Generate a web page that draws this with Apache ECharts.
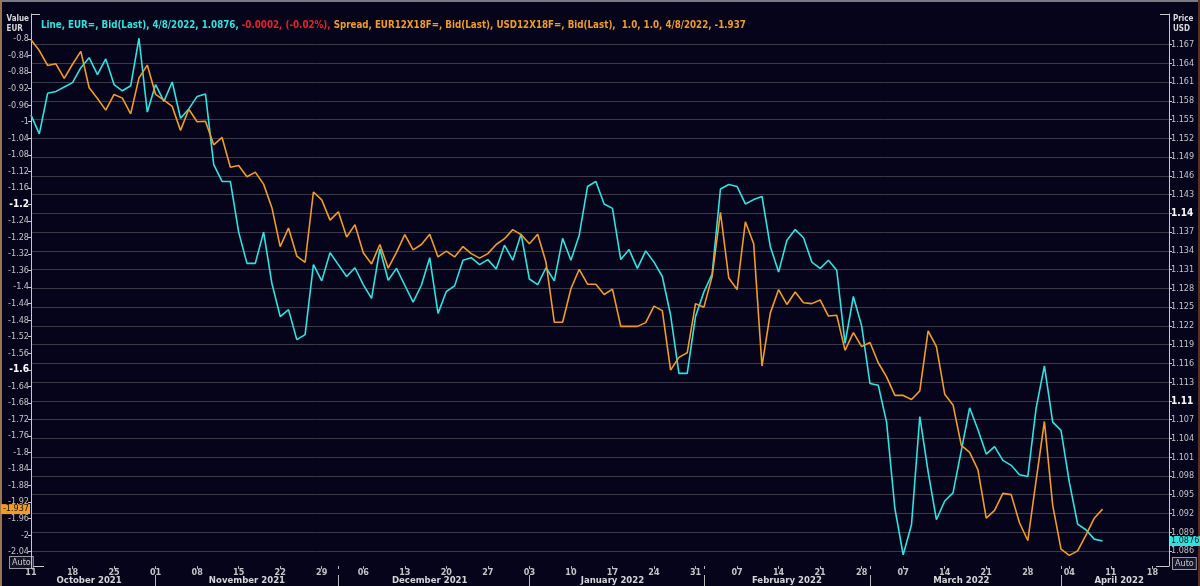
<!DOCTYPE html>
<html><head><meta charset="utf-8">
<script src="https://cdn.jsdelivr.net/npm/echarts@6/dist/echarts.min.js"></script>
<style>html,body{margin:0;padding:0;background:#05041a;}#c{width:1200px;height:586px;}</style>
</head><body><div id="c"></div>
<script>
// Spread, EUR12X18F= minus USD12X18F= (left axis, EUR)
const spreadValues = [
 -0.802,-0.828,-0.864,-0.860,-0.895,-0.861,-0.830,-0.918,-0.944,-0.972,
 -0.934,-0.943,-0.981,-0.894,-0.863,-0.934,-0.948,-0.963,-1.021,-0.970,
 -1.000,-0.999,-1.056,-1.038,-1.110,-1.106,-1.133,-1.122,-1.151,-1.208,
 -1.302,-1.257,-1.325,-1.340,-1.170,-1.189,-1.238,-1.218,-1.279,-1.249,
 -1.317,-1.344,-1.297,-1.354,-1.316,-1.273,-1.310,-1.297,-1.272,-1.327,
 -1.313,-1.327,-1.302,-1.319,-1.330,-1.319,-1.297,-1.283,-1.261,-1.273,
 -1.295,-1.272,-1.340,-1.485,-1.485,-1.404,-1.357,-1.393,-1.393,-1.418,
 -1.405,-1.495,-1.495,-1.495,-1.486,-1.446,-1.457,-1.601,-1.570,-1.559,
 -1.440,-1.449,-1.374,-1.219,-1.378,-1.406,-1.242,-1.295,-1.591,-1.463,
 -1.406,-1.442,-1.412,-1.438,-1.440,-1.431,-1.470,-1.468,-1.553,-1.510,
 -1.544,-1.534,-1.583,-1.617,-1.662,-1.662,-1.672,-1.651,-1.506,-1.544,
 -1.659,-1.685,-1.783,-1.800,-1.842,-1.959,-1.940,-1.899,-1.902,-1.970,
 -2.013,-1.868,-1.725,-1.928,-2.034,-2.049,-2.038,-2.000,-1.959,-1.937
];
// Line, EUR= Bid (right axis, USD)
const eurValues = [
 1.1557,1.1527,1.1592,1.1595,1.1602,1.1609,1.1633,1.1649,1.1622,1.1647,
 1.1606,1.1596,1.1604,1.1680,1.1562,1.1606,1.1579,1.1610,1.1552,1.1567,
 1.1587,1.1591,1.1478,1.1451,1.1451,1.1370,1.1320,1.1320,1.1370,1.1288,
 1.1235,1.1246,1.1198,1.1206,1.1318,1.1292,1.1337,1.1318,1.1299,1.1313,
 1.1286,1.1264,1.1343,1.1293,1.1312,1.1285,1.1258,1.1285,1.1329,1.1240,
 1.1275,1.1284,1.1325,1.1329,1.1318,1.1326,1.1311,1.1349,1.1325,1.1367,
 1.1295,1.1286,1.1313,1.1292,1.1360,1.1325,1.1365,1.1443,1.1451,1.1415,
 1.1408,1.1326,1.1342,1.1312,1.1340,1.1322,1.1299,1.1237,1.1144,1.1144,
 1.1235,1.1274,1.1303,1.1439,1.1446,1.1443,1.1415,1.1422,1.1427,1.1347,
 1.1306,1.1357,1.1374,1.1361,1.1322,1.1312,1.1325,1.1309,1.1192,1.1267,
 1.1220,1.1128,1.1125,1.1066,1.0928,1.0854,1.0902,1.1075,1.0987,1.0910,
 1.0940,1.0953,1.1021,1.1089,1.1054,1.1015,1.1027,1.1005,1.0997,1.0982,
 1.0979,1.1088,1.1156,1.1066,1.1053,1.0970,1.0903,1.0894,1.0879,1.0876
];
const leftTicks = [-0.8,-0.84,-0.88,-0.92,-0.96,-1,-1.04,-1.08,-1.12,-1.16,-1.2,-1.24,-1.28,-1.32,-1.36,-1.4,
 -1.44,-1.48,-1.52,-1.56,-1.6,-1.64,-1.68,-1.72,-1.76,-1.8,-1.84,-1.88,-1.92,-1.96,-2,-2.04];
const rightTicks = [1.167,1.164,1.161,1.158,1.155,1.152,1.149,1.146,1.143,1.14,1.137,1.134,1.131,1.128,
 1.125,1.122,1.119,1.116,1.113,1.11,1.107,1.104,1.101,1.098,1.095,1.092,1.089,1.086];
const leftBold = [-1.2,-1.6];
const rightBold = [1.14,1.11];
const monthNames = ['January','February','March','April','May','June','July','August','September','October','November','December'];
const lastDate = '4/8/2022';
const eurChange = '-0.0002, (-0.02%),';

// trading-day categories (weekdays) from 11 Oct 2021, extending past the data
const dates = [];
{
  const d = new Date(2021, 9, 11);
  while (dates.length < 138) {
    const wd = d.getDay();
    if (wd !== 0 && wd !== 6) dates.push(new Date(d.getTime()));
    d.setDate(d.getDate() + 1);
  }
}
const pad = n => (n < 10 ? '0' : '') + n;
const dateStrs = dates.map(d => d.getFullYear() + '-' + pad(d.getMonth() + 1) + '-' + pad(d.getDate()));
const mondaySet = new Set();
const monthStartSet = new Set();
const monthMid = {};
{
  let runStart = 0;
  for (let i = 0; i < dates.length; i++) {
    if (dates[i].getDay() === 1) mondaySet.add(i);
    const newMonth = i > 0 && dates[i].getMonth() !== dates[i - 1].getMonth();
    if (newMonth) { monthStartSet.add(i); runStart = i; }
    const endRun = i === dates.length - 1 || dates[i + 1].getMonth() !== dates[i].getMonth();
    if (endRun) {
      const mid = Math.round((runStart + i) / 2);
      monthMid[mid] = monthNames[dates[i].getMonth()] + ' ' + dates[i].getFullYear();
    }
  }
}

const near = (a, list) => list.some(b => Math.abs(a - b) < 1e-9);
const fmtLeft = v => {
  const s = String(parseFloat(Number(v).toFixed(3)));
  return near(v, leftBold) ? '{b|' + s + '}' : s;
};
const fmtRight = v => near(v, rightBold) ? '{b|' + Number(v).toFixed(2) + '}' : Number(v).toFixed(3);

const FONT = "'Liberation Sans Narrow','DejaVu Sans Condensed',sans-serif";
const CYAN = '#2fe3e0';
const ORANGE = '#f29b25';
const LABEL = '#c4c4c8';

const lastEur = eurValues[eurValues.length - 1];
const lastSpread = spreadValues[spreadValues.length - 1];
const titlePart1 = 'Line, EUR=, Bid(Last), ' + lastDate + ', ' + lastEur.toFixed(4) + ', ';
const titlePart2 = eurChange;
const titlePart3 = ' Spread, EUR12X18F=, Bid(Last), USD12X18F=, Bid(Last),  1.0, 1.0, ' + lastDate + ', ' + lastSpread.toFixed(3);

// fit the header line to the reference width (~705px) whatever condensed font is present
const mctx = document.createElement('canvas').getContext('2d');
mctx.font = 'bold 12px ' + FONT;
const w12 = mctx.measureText(titlePart1 + titlePart2 + titlePart3).width;
const titleSize = Math.max(9, Math.min(13, 12 * 706 / w12));

const chart = echarts.init(document.getElementById('c'), null, {renderer: 'canvas'});
chart.setOption({
  backgroundColor: '#05041a',
  animation: false,
  textStyle: {fontFamily: FONT},
  title: {
    left: 36, top: 15,
    text: '{c|' + titlePart1 + '}{r|' + titlePart2 + '}{o|' + titlePart3 + '}',
    textStyle: {
      fontFamily: FONT, fontSize: titleSize,
      rich: {
        c: {color: CYAN, fontSize: titleSize, fontWeight: 'bold', fontFamily: FONT},
        r: {color: '#e8222c', fontSize: titleSize, fontWeight: 'bold', fontFamily: FONT},
        o: {color: ORANGE, fontSize: titleSize, fontWeight: 'bold', fontFamily: FONT}
      }
    }
  },
  grid: {left: 31, right: 31, top: 14, bottom: 20, containLabel: false},
  xAxis: [
    {
      type: 'category', data: dateStrs, boundaryGap: false, position: 'bottom',
      axisLine: {show: false},
      axisTick: {show: true, length: 3, interval: i => mondaySet.has(i) || monthStartSet.has(i), lineStyle: {color: '#b8b8bc'}},
      axisLabel: {interval: i => mondaySet.has(i), formatter: v => v.slice(8, 10), color: LABEL, fontSize: 9, fontWeight: 'bold', margin: 2, fontFamily: FONT},
      splitLine: {show: false}
    },
    {
      type: 'category', data: dateStrs, boundaryGap: false, position: 'bottom', offset: 9,
      axisLine: {show: false},
      axisTick: {show: true, length: 12, interval: i => monthStartSet.has(i), lineStyle: {color: '#b8b8bc'}},
      axisLabel: {interval: i => monthMid[i] !== undefined, formatter: (v, i) => monthMid[i] || '', color: '#d6d6da', fontSize: 9.5, fontWeight: 'bold', margin: 1, fontFamily: FONT},
      splitLine: {show: false}
    }
  ],
  yAxis: [
    {
      type: 'value', position: 'left', min: -2.0746, max: -0.7395,
      axisLine: {show: true, lineStyle: {color: '#c8c8cc', width: 1}},
      axisTick: {show: true, customValues: leftTicks, length: 3, lineStyle: {color: '#c8c8cc'}},
      axisLabel: {customValues: leftTicks, formatter: fmtLeft, color: LABEL, fontSize: 9, margin: 2, fontFamily: FONT,
        rich: {b: {fontWeight: 'bold', color: '#ffffff', fontSize: 10, fontFamily: FONT}}},
      splitLine: {show: false}
    },
    {
      type: 'value', position: 'right', min: 1.0836, max: 1.17188,
      axisLine: {show: true, lineStyle: {color: '#c8c8cc', width: 1}},
      axisTick: {show: true, customValues: rightTicks, length: 3, lineStyle: {color: '#c8c8cc'}},
      axisLabel: {customValues: rightTicks, formatter: fmtRight, color: LABEL, fontSize: 9, margin: 2, fontFamily: FONT,
        rich: {b: {fontWeight: 'bold', color: '#ffffff', fontSize: 10, fontFamily: FONT}}},
      splitLine: {show: true, lineStyle: {color: '#3a3a48', width: 1}}
    }
  ],
  series: [
    {
      name: 'EUR=', type: 'line', xAxisIndex: 0, yAxisIndex: 1, data: eurValues,
      symbol: 'none', lineStyle: {color: CYAN, width: 1.6}, z: 3
    },
    {
      name: 'Spread', type: 'line', xAxisIndex: 0, yAxisIndex: 0, data: spreadValues,
      symbol: 'none', lineStyle: {color: ORANGE, width: 1.6}, z: 4
    }
  ],
  graphic: [
    {type: 'rect', left: 0, top: 0, shape: {width: 1200, height: 2}, style: {fill: '#7a7a80'}, silent: true},
    {type: 'rect', left: 0, top: 0, shape: {width: 2, height: 586}, style: {fill: '#9a7450'}, silent: true},
    {type: 'rect', right: 0, top: 0, shape: {width: 2, height: 586}, style: {fill: '#5a2e22'}, silent: true},
    {type: 'line', shape: {x1: 31, y1: 14.5, x2: 40, y2: 14.5}, style: {stroke: '#c8c8cc', lineWidth: 1}, silent: true},
    {type: 'line', shape: {x1: 1160, y1: 14.5, x2: 1169, y2: 14.5}, style: {stroke: '#c8c8cc', lineWidth: 1}, silent: true},
    {type: 'line', shape: {x1: 31, y1: 566.5, x2: 44, y2: 566.5}, style: {stroke: '#c8c8cc', lineWidth: 1}, silent: true},
    {type: 'line', shape: {x1: 1156, y1: 566.5, x2: 1169, y2: 566.5}, style: {stroke: '#c8c8cc', lineWidth: 1}, silent: true},
    {type: 'text', right: 1171, top: 14, style: {text: 'Value\nEUR', fill: '#d8d8dc', font: 'bold 8px ' + FONT, align: 'right', lineHeight: 10}, silent: true},
    {type: 'text', left: 1173, top: 14, style: {text: 'Price\nUSD', fill: '#d8d8dc', font: 'bold 8px ' + FONT, align: 'left', lineHeight: 10}, silent: true},
    {type: 'text', left: 9, top: 556, style: {text: 'Auto', fill: '#c8c8cc', font: '9px ' + FONT, backgroundColor: '#15152a', borderColor: '#9a9aa0', borderWidth: 1, padding: [1, 2]}, silent: true},
    {type: 'text', left: 1172, top: 557, style: {text: 'Auto', fill: '#c8c8cc', font: '9px ' + FONT, backgroundColor: '#15152a', borderColor: '#9a9aa0', borderWidth: 1, padding: [1, 2]}, silent: true}
  ]
});

// last-value tags placed through the axes' own scales
const ySpread = chart.convertToPixel({yAxisIndex: 0}, lastSpread);
const yEur = chart.convertToPixel({yAxisIndex: 1}, lastEur);
chart.setOption({
  graphic: [
    {id: 'tagSpread', type: 'text', x: 30, y: ySpread, z: 100, silent: true,
      style: {text: lastSpread.toFixed(3), fill: '#1a1208', font: '9px ' + FONT, align: 'right', verticalAlign: 'middle',
        backgroundColor: ORANGE, padding: [1, 1, 0, 2]}},
    {id: 'tagEur', type: 'text', x: 1170, y: yEur, z: 100, silent: true,
      style: {text: lastEur.toFixed(4), fill: '#0a1a1a', font: '9px ' + FONT, align: 'left', verticalAlign: 'middle',
        backgroundColor: CYAN, padding: [1, 2, 0, 1]}}
  ]
});
</script>
</body></html>
